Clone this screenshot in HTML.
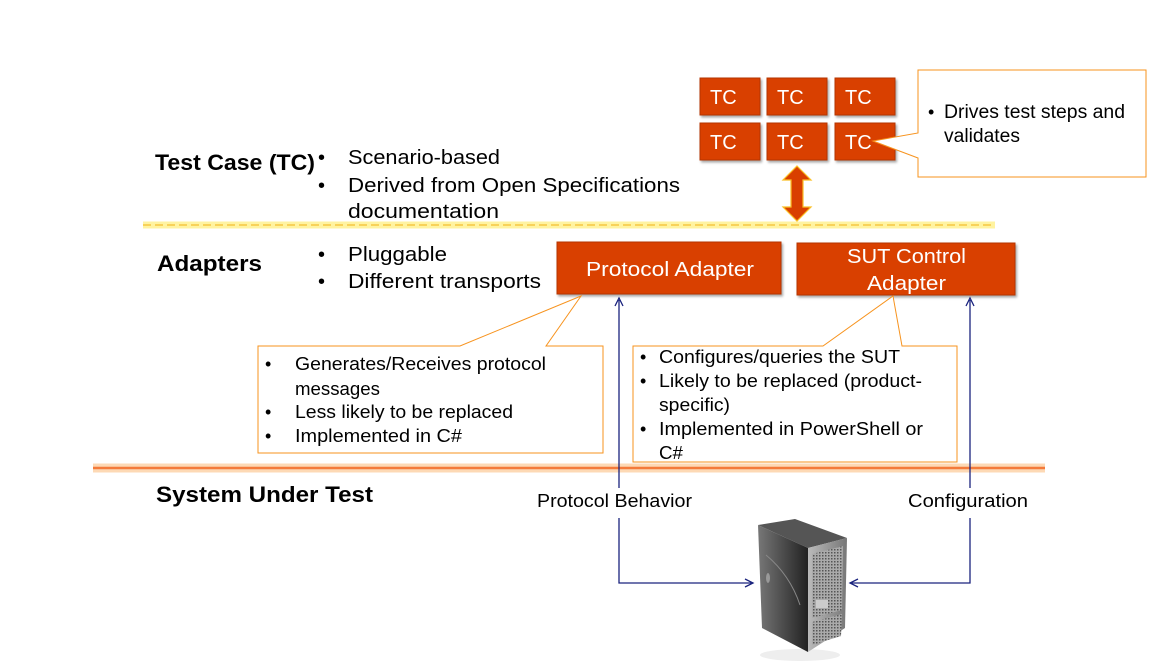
<!DOCTYPE html>
<html><head><meta charset="utf-8"><style>
html,body{margin:0;padding:0;background:#fff;width:1161px;height:661px;overflow:hidden}
svg text{font-family:"Liberation Sans","DejaVu Sans",sans-serif;fill:#000}
</style></head><body>
<svg width="1161" height="661" viewBox="0 0 1161 661" xmlns="http://www.w3.org/2000/svg">
<defs>
<filter id="sh" x="-10%" y="-10%" width="130%" height="140%"><feDropShadow dx="1.5" dy="2" stdDeviation="1.2" flood-color="#000" flood-opacity="0.35"/></filter>
<linearGradient id="srvL" x1="0" x2="1"><stop offset="0" stop-color="#777"/><stop offset="1" stop-color="#222"/></linearGradient>
<linearGradient id="srvF" x1="0" x2="1"><stop offset="0" stop-color="#bbb"/><stop offset="1" stop-color="#777"/></linearGradient>
<pattern id="grid" width="3" height="3" patternUnits="userSpaceOnUse"><rect width="3" height="3" fill="#aaa"/><rect width="1.5" height="1.5" fill="#555"/></pattern>
</defs>

<!-- yellow dashed line -->
<line x1="143" y1="225" x2="995" y2="225" stroke="#fff3a0" stroke-width="7"/>
<line x1="143" y1="225" x2="995" y2="225" stroke="#f5c842" stroke-width="1.5" stroke-dasharray="8,4"/>
<!-- orange line -->
<line x1="93" y1="468" x2="1045" y2="468" stroke="#fdd9b5" stroke-width="9"/>
<line x1="93" y1="468" x2="1045" y2="468" stroke="#f47a3a" stroke-width="2.5"/>

<!-- TC boxes -->
<g fill="#d93f00" stroke="#b53500" stroke-width="1" filter="url(#sh)">
<rect x="700" y="78" width="60" height="37"/><rect x="767" y="78" width="60" height="37"/><rect x="835" y="78" width="60" height="37"/>
<rect x="700" y="123" width="60" height="37"/><rect x="767" y="123" width="60" height="37"/><rect x="835" y="123" width="60" height="37"/>
</g>
<g font-size="20" style="fill:#fff">
<text x="710" y="104" style="fill:#fff">TC</text><text x="777" y="104" style="fill:#fff">TC</text><text x="845" y="104" style="fill:#fff">TC</text>
<text x="710" y="149" style="fill:#fff">TC</text><text x="777" y="149" style="fill:#fff">TC</text><text x="845" y="149" style="fill:#fff">TC</text>
</g>

<!-- right callout -->
<path d="M918,70 H1146 V177 H918 V158 L873,141 L918,133 Z" fill="#fff" stroke="#f7931e" stroke-width="1"/>
<text x="928" y="118" font-size="18">•</text>
<text x="944" y="118" font-size="19" textLength="181" lengthAdjust="spacingAndGlyphs">Drives test steps and</text>
<text x="944" y="142" font-size="19" textLength="76" lengthAdjust="spacingAndGlyphs">validates</text>

<!-- double arrow -->
<path d="M797,166 L811,180 H803 V207 H811 L797,221 L783,207 H791 V180 H783 Z" fill="#d93f00" stroke="#fbbf24" stroke-width="1.2"/>

<!-- adapters -->
<rect x="557" y="242" width="224" height="52" fill="#d93f00" stroke="#b53500" filter="url(#sh)"/>
<rect x="797" y="243" width="218" height="52" fill="#d93f00" stroke="#b53500" filter="url(#sh)"/>
<text x="586" y="276" font-size="20" style="fill:#fff" textLength="168" lengthAdjust="spacingAndGlyphs">Protocol Adapter</text>
<text x="847" y="263" font-size="20" style="fill:#fff" textLength="119" lengthAdjust="spacingAndGlyphs">SUT Control</text>
<text x="867" y="290" font-size="20" style="fill:#fff" textLength="79" lengthAdjust="spacingAndGlyphs">Adapter</text>

<!-- left labels -->
<text x="155" y="170" font-size="22" font-weight="bold" textLength="160" lengthAdjust="spacingAndGlyphs">Test Case (TC)</text>
<text x="157" y="271" font-size="22" font-weight="bold" textLength="105" lengthAdjust="spacingAndGlyphs">Adapters</text>
<text x="156" y="502" font-size="22" font-weight="bold" textLength="217" lengthAdjust="spacingAndGlyphs">System Under Test</text>

<g font-size="20">
<text x="318" y="164">•</text><text x="348" y="164" textLength="152" lengthAdjust="spacingAndGlyphs">Scenario-based</text>
<text x="318" y="192">•</text><text x="348" y="192" textLength="332" lengthAdjust="spacingAndGlyphs">Derived from Open Specifications</text>
<text x="348" y="218" textLength="151" lengthAdjust="spacingAndGlyphs">documentation</text>
<text x="318" y="261">•</text><text x="348" y="261" textLength="99" lengthAdjust="spacingAndGlyphs">Pluggable</text>
<text x="318" y="288">•</text><text x="348" y="288" textLength="193" lengthAdjust="spacingAndGlyphs">Different transports</text>
</g>

<!-- left callout -->
<path d="M258,346 H460 L581,296 L546,346 H603 V453 H258 Z" fill="#fff" stroke="#f7931e" stroke-width="1"/>
<g font-size="18">
<text x="265" y="370">•</text><text x="295" y="370" textLength="251" lengthAdjust="spacingAndGlyphs">Generates/Receives protocol</text>
<text x="295" y="395" textLength="85" lengthAdjust="spacingAndGlyphs">messages</text>
<text x="265" y="418">•</text><text x="295" y="418" textLength="218" lengthAdjust="spacingAndGlyphs">Less likely to be replaced</text>
<text x="265" y="442">•</text><text x="295" y="442" textLength="167" lengthAdjust="spacingAndGlyphs">Implemented in C#</text>
</g>

<!-- right adapter callout -->
<path d="M633,346 H823 L893,296 L902,346 H957 V462 H633 Z" fill="#fff" stroke="#f7931e" stroke-width="1"/>
<g font-size="18">
<text x="640" y="363">•</text><text x="659" y="363" textLength="241" lengthAdjust="spacingAndGlyphs">Configures/queries the SUT</text>
<text x="640" y="387">•</text><text x="659" y="387" textLength="263" lengthAdjust="spacingAndGlyphs">Likely to be replaced (product-</text>
<text x="659" y="411" textLength="71" lengthAdjust="spacingAndGlyphs">specific)</text>
<text x="640" y="435">•</text><text x="659" y="435" textLength="264" lengthAdjust="spacingAndGlyphs">Implemented in PowerShell or</text>
<text x="659" y="459" textLength="24" lengthAdjust="spacingAndGlyphs">C#</text>
</g>

<!-- blue connectors -->
<g stroke="#1a237e" stroke-width="1.3" fill="none">
<path d="M619,488 V300"/><path d="M615,306 L619,298 L623,306"/>
<path d="M619,518 V583 H753"/><path d="M745,579 L753,583 L745,587"/>
<path d="M970,488 V300"/><path d="M966,306 L970,298 L974,306"/>
<path d="M970,518 V583 H850"/><path d="M858,579 L850,583 L858,587"/>
</g>
<text x="537" y="507" font-size="18" textLength="155" lengthAdjust="spacingAndGlyphs">Protocol Behavior</text>
<text x="908" y="507" font-size="18" textLength="120" lengthAdjust="spacingAndGlyphs">Configuration</text>

<!-- server -->
<g>
<ellipse cx="800" cy="655" rx="40" ry="6" fill="#eee"/>
<path d="M758,525 L795,519 L847,538 L808,548 Z" fill="#555"/>
<path d="M758,525 L808,548 L808,652 L762,628 Z" fill="url(#srvL)"/>
<path d="M808,548 L847,538 L845,628 L808,652 Z" fill="url(#srvF)"/>
<path d="M812,554 L843,546 L842,610 L812,618 Z" fill="url(#grid)"/>
<path d="M812,622 L842,614 L841,636 L812,645 Z" fill="url(#grid)"/>
<rect x="816" y="600" width="12" height="8" fill="#ccc"/>
<path d="M766,555 Q790,575 800,605" stroke="#888" fill="none"/>
<ellipse cx="768" cy="578" rx="2" ry="5" fill="#999"/>
</g>
</svg>
</body></html>
